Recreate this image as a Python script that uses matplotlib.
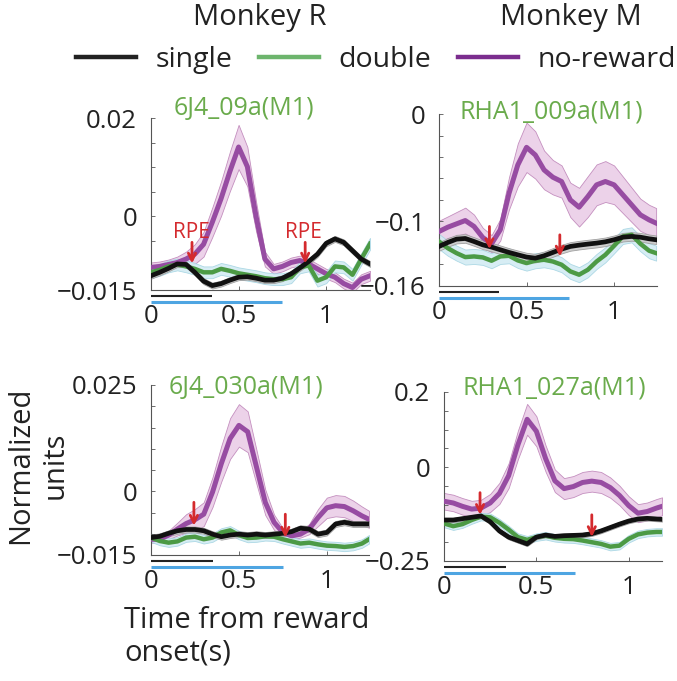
import numpy as np
import matplotlib
matplotlib.use("Agg")
import matplotlib.pyplot as plt
from matplotlib.lines import Line2D
from matplotlib.transforms import ScaledTranslation

plt.rcParams['font.family'] = ['Open Sans', 'DejaVu Sans']

# ---- data ----
x_tl = [0, 0.05, 0.1, 0.15, 0.2, 0.25, 0.3, 0.35, 0.4, 0.45, 0.5, 0.55, 0.6,
        0.65, 0.7, 0.75, 0.8, 0.85, 0.9, 0.95, 1.0, 1.05, 1.1, 1.15, 1.2, 1.25]
noreward_tl = [-0.0104, -0.0102, -0.0098, -0.0094, -0.0087, -0.0077, -0.0057, -0.0012, 0.0036,
               0.0091, 0.0141, 0.0101, -0.0001, -0.0087, -0.0107, -0.0102, -0.0094, -0.0090,
               -0.0097, -0.0107, -0.0117, -0.0124, -0.0137, -0.0145, -0.0128, -0.0121]
noreward_tl_err = [0.0010, 0.0010, 0.0010, 0.0012, 0.0015, 0.0020, 0.0025, 0.0030, 0.0035,
                   0.0040, 0.0045, 0.0040, 0.0030, 0.0015, 0.0010, 0.0010, 0.0010, 0.0010,
                   0.0010, 0.0010, 0.0010, 0.0010, 0.0010, 0.0010, 0.0010, 0.0010]
single_tl = [-0.0121, -0.0114, -0.0106, -0.0097, -0.0098, -0.0114, -0.0132, -0.0141, -0.0137,
             -0.0130, -0.0124, -0.0123, -0.0126, -0.0130, -0.0130, -0.0126, -0.0117, -0.0105,
             -0.0092, -0.0077, -0.0055, -0.0046, -0.0053, -0.0070, -0.0087, -0.0097]
double_tl = [-0.0114, -0.0109, -0.0102, -0.0098, -0.0102, -0.0107, -0.0114, -0.0114, -0.0107,
             -0.0111, -0.0116, -0.0119, -0.0122, -0.0126, -0.0128, -0.0128, -0.0124, -0.0104,
             -0.0100, -0.0131, -0.0124, -0.0102, -0.0104, -0.0119, -0.0087, -0.0056]

x_tr = [0, 0.05, 0.1, 0.15, 0.2, 0.25, 0.3, 0.35, 0.4, 0.45, 0.5, 0.55, 0.6,
        0.65, 0.7, 0.75, 0.8, 0.85, 0.9, 0.95, 1.0, 1.05, 1.1, 1.15, 1.2, 1.24]
noreward_tr = [-0.1093, -0.1053, -0.1022, -0.0991, -0.1046, -0.1149, -0.1207, -0.1077, -0.0737,
               -0.0474, -0.0310, -0.0381, -0.0520, -0.0588, -0.0628, -0.0799, -0.0867, -0.0768,
               -0.0659, -0.0628, -0.0659, -0.0752, -0.0845, -0.0938, -0.0985, -0.1015]
noreward_tr_err = [0.010, 0.010, 0.011, 0.012, 0.011, 0.009, 0.008, 0.010, 0.015, 0.020, 0.023,
                   0.022, 0.018, 0.016, 0.015, 0.016, 0.018, 0.019, 0.019, 0.019, 0.018, 0.017,
                   0.016, 0.015, 0.014, 0.014]
single_tr = [-0.1232, -0.1195, -0.1164, -0.1158, -0.1186, -0.1217, -0.1238, -0.1263, -0.1288,
             -0.1310, -0.1331, -0.1341, -0.1319, -0.1288, -0.1257, -0.1232, -0.1220, -0.1210,
             -0.1201, -0.1189, -0.1170, -0.1146, -0.1139, -0.1146, -0.1161, -0.1170]
double_tr = [-0.1186, -0.1248, -0.1294, -0.1331, -0.1325, -0.1334, -0.1365, -0.1325, -0.1319,
             -0.1362, -0.1387, -0.1365, -0.1356, -0.1372, -0.1402, -0.1464, -0.1495, -0.1449,
             -0.1372, -0.1310, -0.1226, -0.1139, -0.1124, -0.1207, -0.1272, -0.1294]

x_bl = [0, 0.05, 0.1, 0.15, 0.2, 0.25, 0.3, 0.35, 0.4, 0.45, 0.5, 0.55, 0.6,
        0.65, 0.7, 0.75, 0.8, 0.85, 0.9, 0.95, 1.0, 1.05, 1.1, 1.15, 1.2, 1.24]
noreward_bl = [-0.0113, -0.0113, -0.0103, -0.0089, -0.0076, -0.0067, -0.0054, -0.0002, 0.0065,
               0.0124, 0.0155, 0.0140, 0.0057, -0.0026, -0.0073, -0.0097, -0.0105, -0.0101,
               -0.0089, -0.0062, -0.0039, -0.0034, -0.0036, -0.0046, -0.0058, -0.0066]
noreward_bl_err = [0.0008, 0.0008, 0.0010, 0.0015, 0.0022, 0.0025, 0.0028, 0.0035, 0.0042,
                   0.0048, 0.0050, 0.0048, 0.0040, 0.0030, 0.0018, 0.0010, 0.0008, 0.0008,
                   0.0012, 0.0020, 0.0024, 0.0025, 0.0025, 0.0024, 0.0022, 0.0020]
single_bl = [-0.0109, -0.0106, -0.0099, -0.0093, -0.0090, -0.0090, -0.0093, -0.0101, -0.0107,
             -0.0103, -0.0101, -0.0103, -0.0101, -0.0103, -0.0101, -0.0099, -0.0095, -0.0087,
             -0.0089, -0.0101, -0.0097, -0.0077, -0.0073, -0.0077, -0.0077, -0.0077]
double_bl = [-0.0109, -0.0117, -0.0121, -0.0118, -0.0109, -0.0107, -0.0113, -0.0109, -0.0097,
             -0.0092, -0.0103, -0.0110, -0.0109, -0.0106, -0.0107, -0.0113, -0.0118, -0.0123,
             -0.0121, -0.0125, -0.0128, -0.0129, -0.0131, -0.0129, -0.0123, -0.0113]

x_br = [0, 0.05, 0.1, 0.15, 0.2, 0.25, 0.3, 0.35, 0.4, 0.45, 0.5, 0.55, 0.6,
        0.65, 0.7, 0.75, 0.8, 0.85, 0.9, 0.95, 1.0, 1.05, 1.1, 1.15, 1.18]
noreward_br = [-0.0909, -0.0955, -0.1045, -0.1118, -0.1091, -0.0955, -0.0700, -0.0227, 0.0591,
               0.1273, 0.0955, 0.0227, -0.0364, -0.0573, -0.0518, -0.0409, -0.0373, -0.0409,
               -0.0545, -0.0755, -0.1027, -0.1227, -0.1182, -0.1091, -0.1045]
noreward_br_err = [0.022, 0.022, 0.022, 0.022, 0.022, 0.024, 0.028, 0.033, 0.038, 0.041, 0.040,
                   0.035, 0.030, 0.028, 0.028, 0.028, 0.028, 0.028, 0.027, 0.026, 0.025, 0.024,
                   0.024, 0.024, 0.024]
single_br = [-0.1409, -0.1409, -0.1373, -0.1336, -0.1300, -0.1455, -0.1700, -0.1864, -0.1955,
             -0.2045, -0.1864, -0.1809, -0.1845, -0.1827, -0.1818, -0.1809, -0.1773, -0.1700,
             -0.1609, -0.1518, -0.1436, -0.1382, -0.1364, -0.1382, -0.1391]
double_br = [-0.1500, -0.1573, -0.1518, -0.1409, -0.1318, -0.1336, -0.1482, -0.1664, -0.1864,
             -0.1936, -0.1864, -0.1827, -0.1882, -0.1909, -0.1918, -0.1955, -0.2000, -0.2045,
             -0.2118, -0.2091, -0.1909, -0.1791, -0.1745, -0.1727, -0.1727]

titles = ["6J4_09a(M1)", "RHA1_009a(M1)", "6J4_030a(M1)", "RHA1_027a(M1)"]
ylims = [(-0.015, 0.02), (-0.16, 0.0), (-0.015, 0.025), (-0.25, 0.2)]
ytick_step = [0.005, 0.02, 0.005, 0.05]
ylabeled = [[-0.015, 0, 0.02], [-0.16, -0.1, 0], [-0.015, 0, 0.025], [-0.25, 0, 0.2]]
xlims = [1.25, 1.245, 1.24, 1.18]
# durations shown as bars below each axis (single, double)
single_bar = [0.35, 0.34, 0.35, 0.335]
double_bar = [0.75, 0.74, 0.75, 0.71]
# arrows: (x, y_start, y_end)
arrows = [
    [(0.234, -0.0053, -0.0096), (0.88, -0.0053, -0.0096)],
    [(0.288, -0.1046, -0.1257), (0.69, -0.1124, -0.1325)],
    [(0.244, -0.0026, -0.0081), (0.764, -0.0054, -0.0109)],
    [(0.195, -0.068, -0.127), (0.80, -0.127, -0.186)],
]
rpe_labels = [(0.232, -0.0034), (0.87, -0.0034)]

panels = [
    (x_tl, noreward_tl, noreward_tl_err, single_tl, 0.0006, double_tl, 0.0012),
    (x_tr, noreward_tr, noreward_tr_err, single_tr, 0.004, double_tr, 0.007),
    (x_bl, noreward_bl, noreward_bl_err, single_bl, 0.0007, double_bl, 0.0010),
    (x_br, noreward_br, noreward_br_err, single_br, 0.006, double_br, 0.010),
]

# ---- style ----
c_purple = '#974ca2'
c_purple_fill = '#ecd2e9'
c_green = '#4c9a45'
c_green_fill = '#d3ecf3'
c_black = '#111111'
c_black_fill = '#c9c9c9'
c_title = '#6aab4c'
c_red = '#d42a2e'
c_blue = '#4ea5e2'
c_axis = '#555555'

fig = plt.figure(figsize=(6.77, 6.81), dpi=100)
W, H = 677, 681
boxes = [(151, 118, 370, 290), (439, 114, 657, 286), (151, 385, 369, 555), (444, 392, 662, 561)]
title_pos = [(0.425, 1.058), (0.514, 1.012), (0.434, 0.988), (0.505, 1.024)]

for i, (l, t, r, b) in enumerate(boxes):
    ax = fig.add_axes([l / W, 1 - b / H, (r - l) / W, (b - t) / H])
    x, nr, nr_e, sg, sg_e, db, db_e = panels[i]
    x = np.array(x)
    nr, sg, db = np.array(nr), np.array(sg), np.array(db)
    nr_e = np.array(nr_e)

    ax.fill_between(x, nr - nr_e, nr + nr_e, facecolor=c_purple_fill,
                    edgecolor='#c48fbf', lw=0.6, zorder=1)
    ax.fill_between(x, db - db_e, db + db_e, facecolor=c_green_fill,
                    edgecolor='#a6d5e3', lw=0.6, zorder=1.1, alpha=0.9)
    ax.fill_between(x, sg - sg_e, sg + sg_e, facecolor=c_black_fill,
                    edgecolor='#999999', lw=0.6, zorder=1.2, alpha=0.9)
    ax.plot(x, nr, color=c_purple, lw=3.6, zorder=3, solid_joinstyle='round')
    ax.plot(x, db, color=c_green, lw=3.2, zorder=3.1, solid_joinstyle='round')
    ax.plot(x, sg, color=c_black, lw=3.4, zorder=3.2, solid_joinstyle='round')

    for (ax_x, y0, y1) in arrows[i]:
        ax.annotate('', xy=(ax_x, y1), xytext=(ax_x, y0),
                    arrowprops=dict(arrowstyle='->', color=c_red, lw=2.0,
                                    mutation_scale=13, shrinkA=0, shrinkB=0),
                    zorder=5)
    if i == 0:
        for (tx, ty) in rpe_labels:
            ax.text(tx, ty, 'RPE', color=c_red, fontsize=15, ha='center',
                    va='center', zorder=5)

    ax.set_xlim(0, xlims[i])
    ax.set_ylim(*ylims[i])
    for s in ['top', 'right']:
        ax.spines[s].set_visible(False)
    for s in ['left', 'bottom']:
        ax.spines[s].set_color(c_axis)
        ax.spines[s].set_linewidth(0.8)

    lo, hi = ylims[i]
    st = ytick_step[i]
    yt = np.round(np.arange(lo, hi + st / 2, st), 4)
    ax.set_yticks(yt)
    labs = []
    for v in yt:
        if any(abs(v - q) < 1e-9 for q in ylabeled[i]):
            s = ('%g' % abs(v)) if v != 0 else '0'
            labs.append(('\u2212' + s) if v < 0 else s)
        else:
            labs.append('')
    ax.set_yticklabels(labs)
    ax.set_xticks([0, 0.5, 1])
    ax.set_xticklabels(['0', '0.5', '1'])
    ax.tick_params(direction='in', length=3, width=0.6, color=c_axis,
                   labelsize=18.5, labelcolor='#222222')
    ax.tick_params(axis='y', pad=10)
    ax.tick_params(axis='x', pad=10)

    # condition duration bars under the x axis
    tr_black = ax.get_xaxis_transform() + ScaledTranslation(0, -6 / 100, fig.dpi_scale_trans)
    tr_blue = ax.get_xaxis_transform() + ScaledTranslation(0, -12 / 100, fig.dpi_scale_trans)
    ax.plot([0, single_bar[i]], [0, 0], color='#222222', lw=1.5,
            transform=tr_black, clip_on=False, solid_capstyle='butt')
    ax.plot([0, double_bar[i]], [0, 0], color=c_blue, lw=2.2,
            transform=tr_blue, clip_on=False, solid_capstyle='butt')

    ax.text(title_pos[i][0], title_pos[i][1], titles[i], transform=ax.transAxes,
            color=c_title, fontsize=18, ha='center', va='center')

# monkey headers
fig.text(260 / W, 1 - 17 / H, 'Monkey R', fontsize=21, ha='center', va='center', color='#222222')
fig.text(571 / W, 1 - 17 / H, 'Monkey M', fontsize=21, ha='center', va='center', color='#222222')

# legend
handles = [Line2D([], [], color='#222222', lw=3.2),
           Line2D([], [], color='#6db56d', lw=3.2),
           Line2D([], [], color='#7b2d8e', lw=3.2)]
fig.legend(handles, ['single', 'double', 'no-reward'], loc='center left',
           bbox_to_anchor=(76 / W, 1 - 60 / H), ncol=3, frameon=False, fontsize=20.5,
           handlelength=2.1, handletextpad=0.68, columnspacing=0.95,
           borderpad=0, borderaxespad=0, labelcolor='#222222')

# axis labels
fig.text(38 / W, 1 - 465 / H, 'Normalized\nunits', rotation=90, fontsize=21,
         ha='center', va='center', multialignment='center', linespacing=1.25,
         color='#222222')
fig.text(124 / W, 1 - 606 / H, 'Time from reward\nonset(s)', fontsize=21,
         ha='left', va='top', linespacing=1.15, color='#222222')

fig.savefig('out.png', dpi=100)
